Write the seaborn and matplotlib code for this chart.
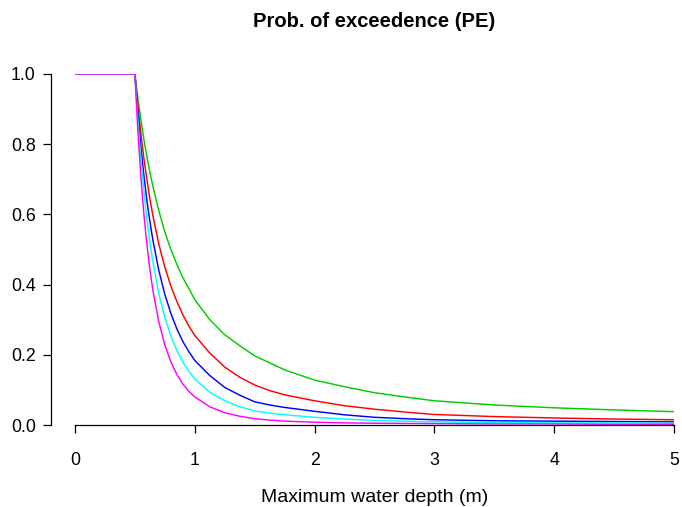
import numpy as np
import pandas as pd
import matplotlib
matplotlib.use("Agg")
import matplotlib.pyplot as plt
import seaborn as sns

# -----------------------------
# DATA
# -----------------------------
depth = [0, 0.5, 0.525, 0.55, 0.575, 0.6, 0.625, 0.65, 0.7, 0.75, 0.8, 0.85, 0.9, 0.95,
         1.0, 1.125, 1.25, 1.375, 1.5, 1.625, 1.75, 2.0, 2.25, 2.5, 2.75, 3.0,
         3.5, 4.0, 4.5, 5.0]

pe_green = [1, 1, 0.931, 0.87, 0.814, 0.765, 0.720, 0.68, 0.61, 0.55, 0.50, 0.458, 0.42, 0.389,
            0.357, 0.300, 0.257, 0.226, 0.197, 0.177, 0.157, 0.128, 0.109, 0.092, 0.080, 0.069,
            0.057, 0.049, 0.043, 0.038]
pe_red = [1, 1, 0.908, 0.83, 0.759, 0.70, 0.644, 0.597, 0.515, 0.45, 0.396, 0.352, 0.314, 0.282,
          0.255, 0.205, 0.165, 0.136, 0.114, 0.098, 0.086, 0.069, 0.055, 0.045, 0.037, 0.030,
          0.024, 0.020, 0.017, 0.015]
pe_blue = [1, 1, 0.888, 0.79, 0.711, 0.64, 0.580, 0.527, 0.44, 0.372, 0.318, 0.274, 0.238, 0.209,
           0.184, 0.141, 0.107, 0.085, 0.066, 0.057, 0.050, 0.039, 0.029, 0.022, 0.018, 0.015,
           0.012, 0.011, 0.010, 0.009]
pe_cyan = [1, 1, 0.867, 0.757, 0.665, 0.587, 0.521, 0.465, 0.374, 0.306, 0.254, 0.212, 0.180, 0.153,
           0.132, 0.093, 0.069, 0.052, 0.040, 0.034, 0.029, 0.022, 0.017, 0.013, 0.011, 0.009,
           0.007, 0.006, 0.006, 0.005]
pe_magenta = [1, 1, 0.837, 0.706, 0.600, 0.514, 0.443, 0.384, 0.293, 0.228, 0.180, 0.144, 0.117, 0.096,
              0.080, 0.052, 0.035, 0.025, 0.018, 0.014, 0.011, 0.008, 0.006, 0.005, 0.0045, 0.004,
              0.003, 0.003, 0.002, 0.002]

curve_names = ["green", "red", "blue", "cyan", "magenta"]
curve_values = [pe_green, pe_red, pe_blue, pe_cyan, pe_magenta]
curve_colors = ["#00CD00", "#FF0000", "#0000FF", "#00FFFF", "#FF00FF"]

x_ticks = [0, 1, 2, 3, 4, 5]
y_ticks = [0.0, 0.2, 0.4, 0.6, 0.8, 1.0]

df = pd.concat(
    [pd.DataFrame({"depth": depth, "pe": vals, "curve": name})
     for name, vals in zip(curve_names, curve_values)],
    ignore_index=True,
)

# -----------------------------
# STYLE
# -----------------------------
sns.set_theme(style="white")
plt.rcParams["font.family"] = ["Liberation Sans", "DejaVu Sans"]

fig = plt.figure(figsize=(6.82, 5.07), dpi=100)
ax = fig.add_axes([75 / 682, 1 - 425 / 507, 599 / 682, 351 / 507])

sns.lineplot(
    data=df, x="depth", y="pe", hue="curve",
    palette=dict(zip(curve_names, curve_colors)),
    hue_order=curve_names, estimator=None, sort=False,
    linewidth=1.05, legend=False, ax=ax,
)

ax.set_xlim(0, 5)
ax.set_ylim(0, 1)
ax.set_xticks(x_ticks)
ax.set_xticklabels([str(t) for t in x_ticks])
ax.set_yticks(y_ticks)
ax.set_yticklabels([f"{t:.1f}" for t in y_ticks])

for side in ["top", "right"]:
    ax.spines[side].set_visible(False)
for side in ["left", "bottom"]:
    ax.spines[side].set_color("black")
    ax.spines[side].set_linewidth(0.9)
# outward offset is in points: 24.5 px at 100 dpi
ax.spines["left"].set_position(("outward", 17.6))
ax.spines["left"].set_bounds(0, 1)
ax.spines["bottom"].set_bounds(0, 5)

ax.tick_params(axis="x", direction="out", length=5.6, width=0.9, color="black",
               pad=13.5, labelsize=12.8, labelcolor="black", bottom=True)
ax.tick_params(axis="y", direction="out", length=5.6, width=0.9, color="black",
               pad=5.0, labelsize=12.8, labelcolor="black", left=True)

ax.set_ylabel("")
ax.set_xlabel("Maximum water depth (m)", fontsize=14, color="black")
ax.xaxis.label.set_va("baseline")
ax.xaxis.set_label_coords(0.5, -77 / 351)

ax.set_title("Prob. of exceedence (PE)", fontsize=14.5, fontweight="bold",
             color="black", pad=34)

fig.savefig("out.png", dpi=100)
